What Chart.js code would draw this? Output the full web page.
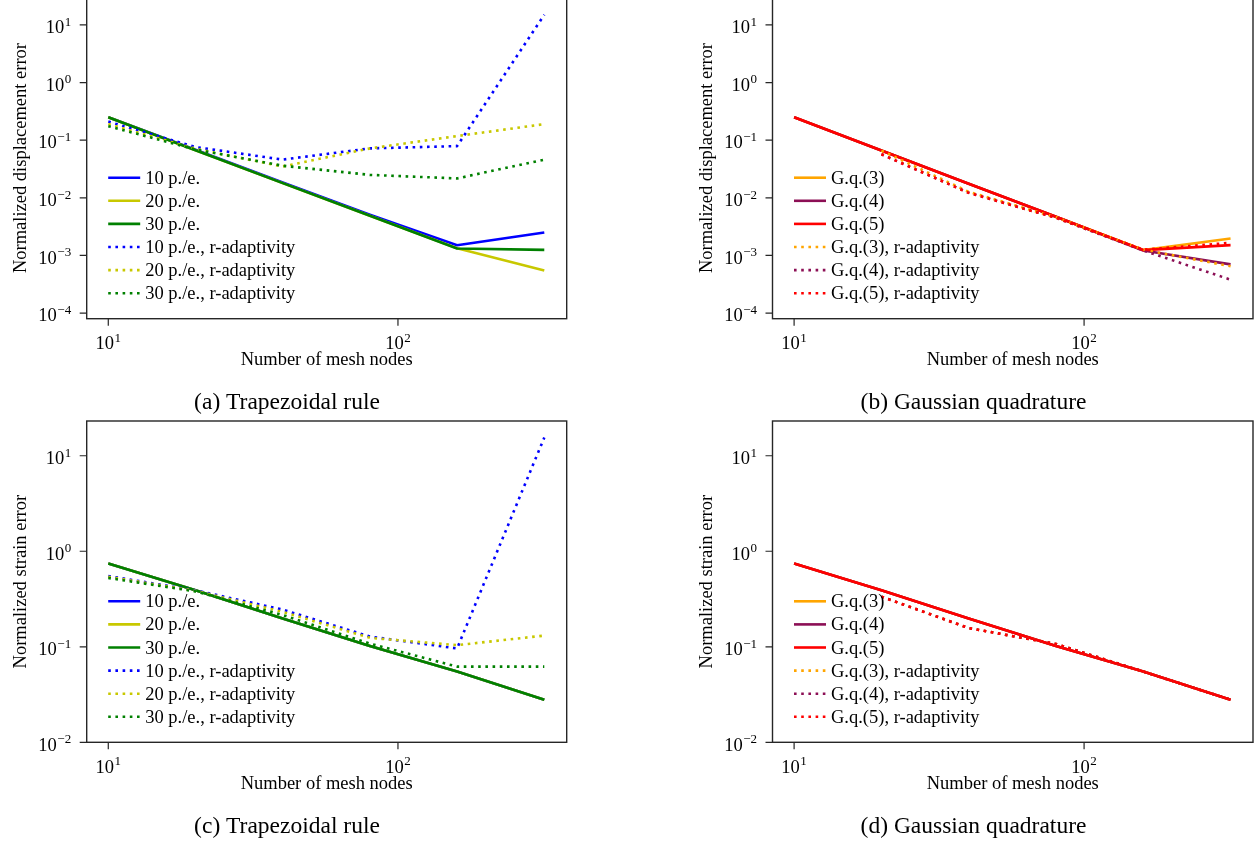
<!DOCTYPE html>
<html>
<head>
<meta charset="utf-8">
<script src="https://cdn.jsdelivr.net/npm/chart.js@4.4.1/dist/chart.umd.min.js"></script>
<style>
  html, body { margin: 0; padding: 0; background: #fff; }
  body { width: 1257px; height: 845px; position: relative; overflow: hidden; }
  canvas { position: absolute; }
</style>
</head>
<body>
<canvas id="panelA" width="628" height="440" style="left:0px;top:-20px"></canvas>
<canvas id="panelB" width="629" height="440" style="left:628px;top:-20px"></canvas>
<canvas id="panelC" width="628" height="425" style="left:0px;top:420px"></canvas>
<canvas id="panelD" width="629" height="425" style="left:628px;top:420px"></canvas>
<script>
// mesh nodes
const nodes = [10, 20, 40, 80, 160, 320]
const nodesAdapt = [20, 40, 80, 160, 320]

// (a) displacement error, trapezoidal rule
const dispTrap10 = [0.25, 0.068, 0.0185, 0.0051, 0.0015, 0.0025]
const dispTrap20 = [0.25, 0.067, 0.018, 0.0049, 0.00133, 0.00055]
const dispTrap30 = [0.25, 0.067, 0.018, 0.0049, 0.00132, 0.00125]
const dispTrap10r = [0.21, 0.076, 0.046, 0.072, 0.079, 15]
const dispTrap20r = [0.19, 0.071, 0.035, 0.072, 0.118, 0.19]
const dispTrap30r = [0.175, 0.069, 0.036, 0.025, 0.0217, 0.046]

// (b) displacement error, gaussian quadrature
const dispGauss3 = [0.25, 0.066, 0.0176, 0.0047, 0.00124, 0.00197]
const dispGauss4 = [0.25, 0.066, 0.0176, 0.0047, 0.00122, 0.0007]
const dispGauss5 = [0.25, 0.066, 0.0176, 0.0047, 0.00124, 0.00151]
const dispGauss3r = [0.066, 0.0127, 0.0046, 0.00126, 0.00065]
const dispGauss4r = [0.057, 0.0122, 0.0045, 0.00122, 0.00038]
const dispGauss5r = [0.057, 0.0122, 0.0045, 0.00126, 0.00166]

// (c) strain error, trapezoidal rule
const strainTrap10 = [0.745, 0.39, 0.198, 0.102, 0.055, 0.0279]
const strainTrap20 = [0.745, 0.39, 0.198, 0.102, 0.055, 0.0279]
const strainTrap30 = [0.745, 0.39, 0.198, 0.102, 0.055, 0.0279]
const strainTrap10r = [0.55, 0.39, 0.245, 0.128, 0.096, 15.5]
const strainTrap20r = [0.54, 0.385, 0.232, 0.124, 0.104, 0.131]
const strainTrap30r = [0.525, 0.38, 0.215, 0.108, 0.062, 0.062]

// (d) strain error, gaussian quadrature
const strainGauss3 = [0.745, 0.39, 0.198, 0.102, 0.055, 0.0279]
const strainGauss4 = [0.745, 0.39, 0.198, 0.102, 0.055, 0.0279]
const strainGauss5 = [0.745, 0.39, 0.198, 0.102, 0.055, 0.0279]
const strainGauss3r = [0.335, 0.157, 0.107, 0.055, 0.0279]
const strainGauss4r = [0.335, 0.157, 0.107, 0.055, 0.0279]
const strainGauss5r = [0.335, 0.157, 0.107, 0.055, 0.0279]

const trapLabels = ['10 p./e.', '20 p./e.', '30 p./e.', '10 p./e., r-adaptivity', '20 p./e., r-adaptivity', '30 p./e., r-adaptivity']
const gaussLabels = ['G.q.(3)', 'G.q.(4)', 'G.q.(5)', 'G.q.(3), r-adaptivity', 'G.q.(4), r-adaptivity', 'G.q.(5), r-adaptivity']
const trapColors = ['#0000ff', '#c8c800', '#008000']
const gaussColors = ['#ffa500', '#8c0f55', '#ff0000']

// exponents of the tick labels (10^e)
const dispTicks = [-4, -3, -2, -1, 0, 1]
const strainTicks = [-2, -1, 0, 1]
const nodeTicks = [1, 2]

const serif = '"Liberation Serif", "DejaVu Serif", serif'

function power(ctx, e, x, base, align) {
  const big = `18.5px ${serif}`
  const small = `13px ${serif}`
  const ex = e < 0 ? '\u2212' + (-e) : String(e)
  ctx.font = big
  const w1 = ctx.measureText('10').width
  ctx.font = small
  const w2 = ctx.measureText(ex).width
  const x0 = align === 'right' ? x - w1 - w2 - 0.5 : x - (w1 + w2 + 0.5) / 2
  ctx.textAlign = 'left'
  ctx.textBaseline = 'alphabetic'
  ctx.font = big
  ctx.fillText('10', x0, base)
  ctx.font = small
  ctx.fillText(ex, x0 + w1 + 0.5, base - 7.5)
}

// frame, ticks, titles, legend and caption
const decor = {
  id: 'decor',
  afterDraw(chart, args, o) {
    const ctx = chart.ctx
    const {left, right, top, bottom} = chart.chartArea
    const sx = chart.scales.x
    const sy = chart.scales.y
    ctx.save()
    ctx.strokeStyle = '#262626'
    ctx.lineWidth = 1.4
    ctx.strokeRect(left, top, right - left, bottom - top)
    ctx.lineWidth = 1.2
    ctx.beginPath()
    o.yTicks.forEach(e => {
      const y = sy.getPixelForValue(Math.pow(10, e))
      ctx.moveTo(left - 7, y)
      ctx.lineTo(left, y)
    })
    o.xTicks.forEach(e => {
      const x = sx.getPixelForValue(Math.pow(10, e))
      ctx.moveTo(x, bottom)
      ctx.lineTo(x, bottom + 7)
    })
    ctx.stroke()

    ctx.fillStyle = '#000'
    o.yTicks.forEach(e => power(ctx, e, left - 15.5, sy.getPixelForValue(Math.pow(10, e)) + 8.3, 'right'))
    o.xTicks.forEach(e => power(ctx, e, sx.getPixelForValue(Math.pow(10, e)), bottom + 30.6, 'center'))

    ctx.font = `18.5px ${serif}`
    ctx.textAlign = 'center'
    ctx.textBaseline = 'alphabetic'
    ctx.fillText('Number of mesh nodes', (left + right) / 2, bottom + 46.5)
    ctx.save()
    ctx.translate(left - 60.5, (top + bottom) / 2)
    ctx.rotate(-Math.PI / 2)
    ctx.fillText(o.yTitle, 0, 0)
    ctx.restore()

    const sets = chart.data.datasets
    sets.forEach((ds, i) => {
      const y = bottom - 25.5 - (sets.length - 1 - i) * 23.1
      ctx.strokeStyle = ds.borderColor
      ctx.lineWidth = ds.borderWidth
      ctx.lineCap = 'butt'
      ctx.setLineDash(ds.borderDash)
      ctx.beginPath()
      ctx.moveTo(left + 21.5, y)
      ctx.lineTo(left + 53.5, y)
      ctx.stroke()
      ctx.setLineDash([])
      ctx.fillStyle = '#000'
      ctx.textAlign = 'left'
      ctx.font = `18.5px ${serif}`
      ctx.fillText(ds.label, left + 58.5, y + 6)
    })

    ctx.font = `23.5px ${serif}`
    ctx.textAlign = 'center'
    ctx.fillText(o.caption, o.captionX, o.captionY)
    ctx.restore()
  }
}

const makeSet = (label, xs, ys, color, dotted, order) => ({
  label: label,
  data: ys.map((y, i) => ({x: xs[i], y: y})),
  borderColor: color,
  borderWidth: 2.6,
  borderDash: dotted ? [2.6, 4.6] : [],
  borderCapStyle: 'butt',
  borderJoinStyle: 'round',
  pointRadius: 0,
  tension: 0,
  fill: false,
  order: order
})

const panels = [
  { id: 'panelA', labels: trapLabels, colors: trapColors,
    solid: [dispTrap10, dispTrap20, dispTrap30], dotted: [dispTrap10r, dispTrap20r, dispTrap30r], dottedX: nodes,
    yMin: 8e-5, yMax: 30, yTicks: dispTicks, yTitle: 'Normalized displacement error', caption: '(a) Trapezoidal rule',
    padding: {left: 86.7, top: 17.4, right: 61.3, bottom: 101.3}, captionX: 287, captionY: 428.5 },
  { id: 'panelB', labels: gaussLabels, colors: gaussColors,
    solid: [dispGauss3, dispGauss4, dispGauss5], dotted: [dispGauss3r, dispGauss4r, dispGauss5r], dottedX: nodesAdapt,
    yMin: 8e-5, yMax: 30, yTicks: dispTicks, yTitle: 'Normalized displacement error', caption: '(b) Gaussian quadrature',
    padding: {left: 144.5, top: 17.4, right: 4, bottom: 101.3}, captionX: 345.5, captionY: 428.5 },
  { id: 'panelC', labels: trapLabels, colors: trapColors,
    solid: [strainTrap10, strainTrap20, strainTrap30], dotted: [strainTrap10r, strainTrap20r, strainTrap30r], dottedX: nodes,
    yMin: 0.01, yMax: 23.1, yTicks: strainTicks, yTitle: 'Normalized strain error', caption: '(c) Trapezoidal rule',
    padding: {left: 86.7, top: 1, right: 61.3, bottom: 102.7}, captionX: 287, captionY: 412.7 },
  { id: 'panelD', labels: gaussLabels, colors: gaussColors,
    solid: [strainGauss3, strainGauss4, strainGauss5], dotted: [strainGauss3r, strainGauss4r, strainGauss5r], dottedX: nodesAdapt,
    yMin: 0.01, yMax: 23.1, yTicks: strainTicks, yTitle: 'Normalized strain error', caption: '(d) Gaussian quadrature',
    padding: {left: 144.5, top: 1, right: 4, bottom: 102.7}, captionX: 345.5, captionY: 412.7 }
]

panels.forEach(p => {
  const datasets = []
  p.solid.forEach((ys, i) => datasets.push(makeSet(p.labels[i], nodes, ys, p.colors[i], false, 6 - i)))
  p.dotted.forEach((ys, i) => datasets.push(makeSet(p.labels[i + 3], p.dottedX, ys, p.colors[i], true, 3 - i)))
  const ctx = document.getElementById(p.id).getContext('2d')
  new Chart(ctx, {
    type: 'line',
    data: { datasets: datasets },
    options: {
      responsive: false,
      animation: false,
      devicePixelRatio: 1,
      events: [],
      layout: { padding: p.padding },
      scales: {
        x: { type: 'logarithmic', display: false, bounds: 'data', min: Math.pow(10, 0.9255), max: Math.pow(10, 2.5825) },
        y: { type: 'logarithmic', display: false, bounds: 'data', min: p.yMin, max: p.yMax }
      },
      plugins: {
        legend: { display: false },
        tooltip: { enabled: false },
        decor: { yTicks: p.yTicks, xTicks: nodeTicks, yTitle: p.yTitle, caption: p.caption, captionX: p.captionX, captionY: p.captionY }
      }
    },
    plugins: [decor]
  })
})
</script>
</body>
</html>
